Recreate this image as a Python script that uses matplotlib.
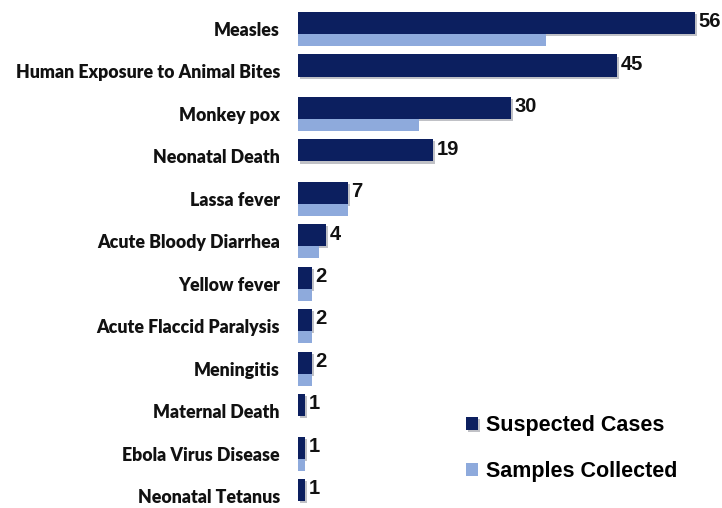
import matplotlib.pyplot as plt
import matplotlib.patheffects as pe

diseases = ["Measles", "Human Exposure to Animal Bites", "Monkey pox", "Neonatal Death",
            "Lassa fever", "Acute Bloody Diarrhea", "Yellow fever", "Acute Flaccid Paralysis",
            "Meningitis", "Maternal Death", "Ebola Virus Disease", "Neonatal Tetanus"]
suspected = [56, 45, 30, 19, 7, 4, 2, 2, 2, 1, 1, 1]
samples = [35, 0, 17, 0, 7, 3, 2, 2, 2, 0, 1, 0]

dark = "#0c1f5f"
light = "#8eaadc"

fig = plt.figure(figsize=(7.22, 5.08), dpi=100)
ax = fig.add_axes([298 / 722, 0, 1 - 298 / 722, 1])

pos = list(range(len(diseases)))
shadow = [pe.SimplePatchShadow(offset=(1.5, -1.5), alpha=0.25), pe.Normal()]
b1 = ax.barh([p - 0.14 for p in pos], suspected, height=0.52, color=dark,
             label="Suspected Cases", path_effects=shadow)
b2 = ax.barh([p + 0.26 for p in pos], samples, height=0.28, color=light,
             label="Samples Collected")

for p, v in zip(pos, suspected):
    ax.text(v + 0.5, p - 0.17, str(v), va="center", ha="left",
            fontsize=14.5, fontweight="bold", family="Liberation Sans", color="#111111")

# row spacing ~42.45 px, first row centred at y=29 px, last at 496 px
ax.set_xlim(0, (722 - 298) / 7.09)
ax.set_ylim(11 + 12 / 42.45, -29 / 42.45)
ax.set_yticks(pos)
ax.set_yticklabels(diseases, fontsize=12.8, fontweight="heavy", family="Lato", color="#111111")
ax.tick_params(axis="y", length=0, pad=13)
ax.set_xticks([])
for s in ax.spines.values():
    s.set_visible(False)

leg = fig.legend(handles=[b1, b2], loc="upper left", bbox_to_anchor=(447 / 722, 1 - 396 / 508),
                 frameon=False, handlelength=0.55, handleheight=0.55, handletextpad=0.35,
                 labelspacing=1.15, prop={"family": "Liberation Sans", "weight": "bold", "size": 15.5})

fig.savefig("out.png", dpi=100)
